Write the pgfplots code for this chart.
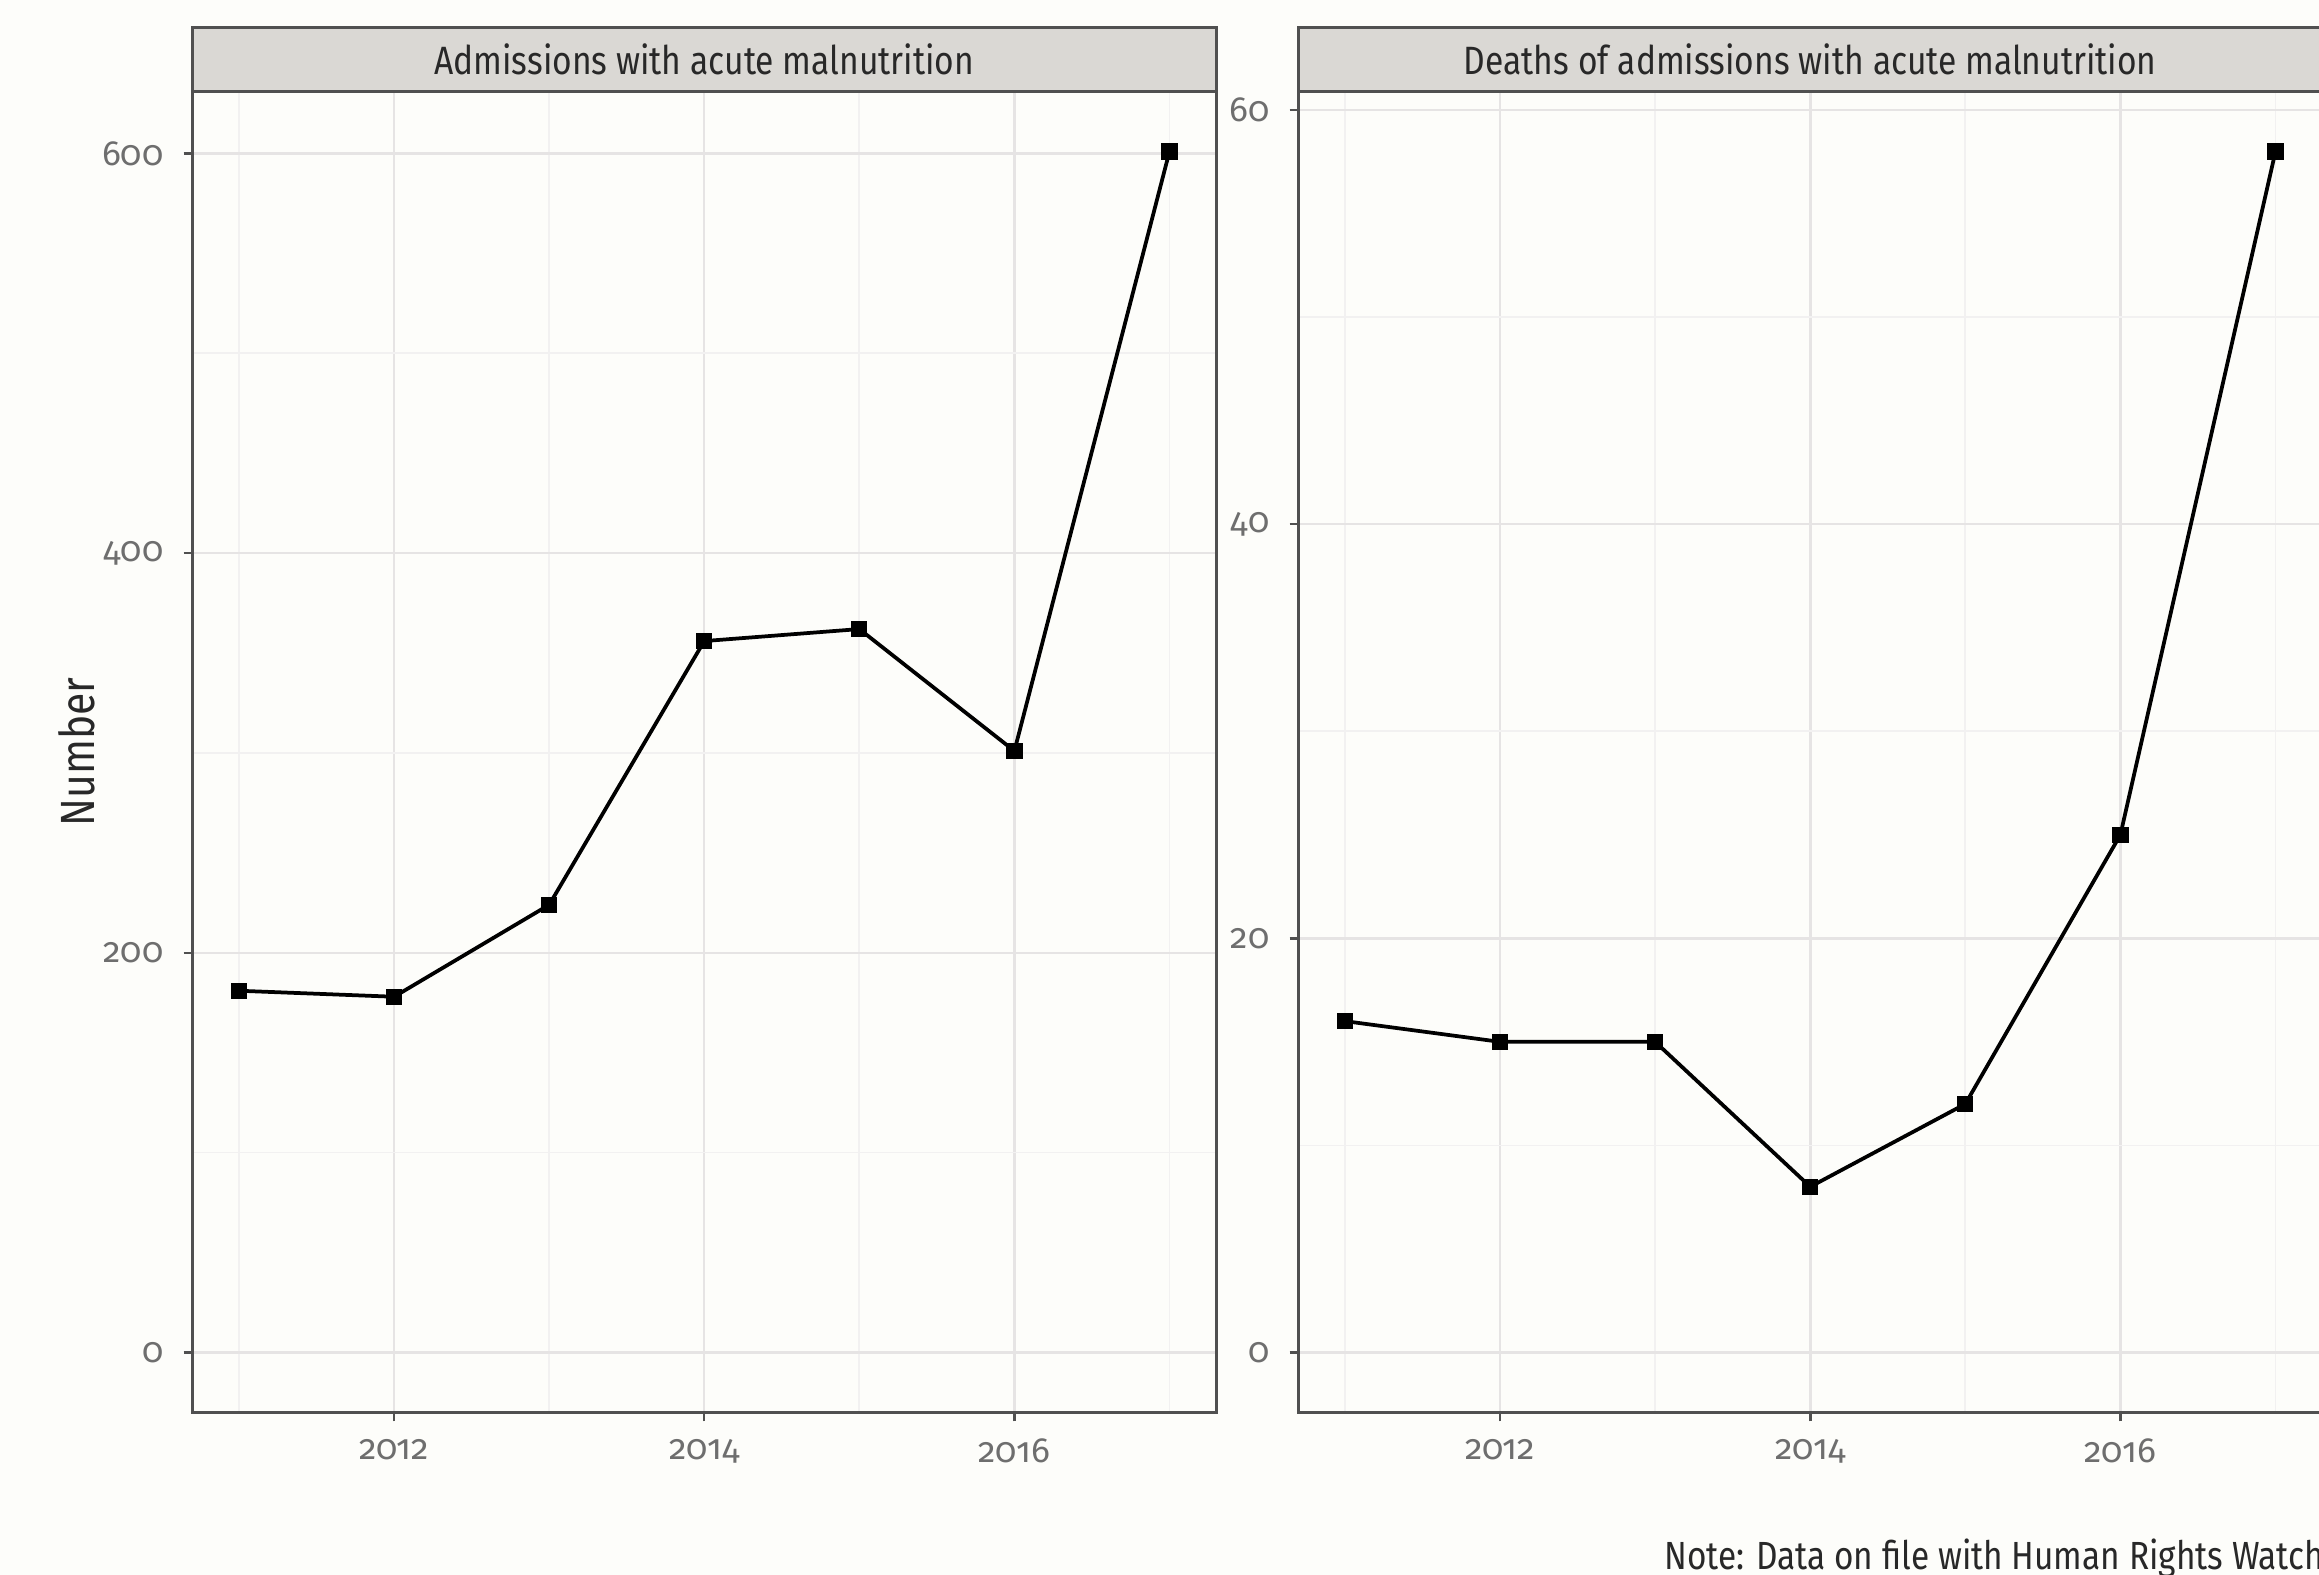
\documentclass[border=0pt]{standalone}
\usepackage{pgfplots}
\pgfplotsset{compat=1.18}
\usepackage{fontspec}
\setmainfont[Numbers=OldStyle]{Fira Sans}
\newfontfamily\condfont[FakeStretch=0.85]{Fira Sans}
\definecolor{bg}{RGB}{253,253,250}
\definecolor{stripfill}{RGB}{218,216,212}
\definecolor{bordercol}{RGB}{80,80,80}
\definecolor{gridmaj}{RGB}{230,228,228}
\definecolor{gridmin}{RGB}{242,241,241}
\definecolor{ticklab}{RGB}{110,110,110}
\definecolor{textdark}{RGB}{40,40,40}

\pgfplotsset{
 facet/.style={
  scale only axis, width=204.7pt, height=264.2pt,
  axis background/.style={fill=bg},
  axis line style={draw=bordercol, line width=0.6pt},
  xmin=2010.7, xmax=2017.3,
  xtick={2012,2014,2016}, xticklabels={2012,2014,2016},
  minor xtick={2011,2013,2015,2017},
  grid=both,
  major grid style={draw=gridmaj, line width=0.5pt},
  minor grid style={draw=gridmin, line width=0.35pt},
  tick align=outside, xtick pos=bottom, ytick pos=left,
  major tick length=1.8pt, minor tick length=0pt,
  tick style={draw=bordercol, line width=0.5pt},
  tick label style={font=\fontsize{7}{8}\selectfont, color=ticklab},
  yticklabel style={xshift=-0.5pt},
  xticklabel style={yshift=0pt},
  /pgf/number format/assume math mode=true,
  clip=false,
 },
 dataline/.style={black, line width=0.75pt, mark=square*, mark size=1.25pt, mark options={solid}},
}

\begin{document}
\begin{tikzpicture}
\fill[bg] (0,0) rectangle (463.8pt,315pt);
\path[use as bounding box] (0,0) rectangle (463.8pt,315pt);

\begin{axis}[facet, at={(38.5pt,32.5pt)}, anchor=south west,
  ymin=-30.05, ymax=631.05,
  ytick={0,200,400,600}, yticklabels={0,200,400,600},
  minor ytick={100,300,500}]
\addplot[dataline] coordinates {
 (2011,181) (2012,178) (2013,224) (2014,356) (2015,362) (2016,301) (2017,601)};
\draw[draw=bordercol, fill=stripfill, line width=0.6pt]
  (rel axis cs:0,1) rectangle ([yshift=12.8pt]rel axis cs:1,1);
\node[font=\condfont\fontsize{7.9}{9}\selectfont, color=textdark]
  at ([yshift=6.4pt]rel axis cs:0.5,1) {Admissions with acute malnutrition};
\end{axis}

\begin{axis}[facet, at={(259.7pt,32.5pt)}, anchor=south west,
  ymin=-2.9, ymax=60.9,
  ytick={0,20,40,60}, yticklabels={0,20,40,60},
  minor ytick={10,30,50}]
\addplot[dataline] coordinates {
 (2011,16) (2012,15) (2013,15) (2014,8) (2015,12) (2016,25) (2017,58)};
\draw[draw=bordercol, fill=stripfill, line width=0.6pt]
  (rel axis cs:0,1) rectangle ([yshift=12.8pt]rel axis cs:1,1);
\node[font=\condfont\fontsize{7.9}{9}\selectfont, color=textdark]
  at ([yshift=6.4pt]rel axis cs:0.5,1) {Deaths of admissions with acute malnutrition};
\end{axis}

\node[rotate=90, font=\condfont\fontsize{9.6}{11}\selectfont, color=textdark]
  at (15.4pt,164.6pt) {Number};
\node[anchor=base west, inner sep=0pt, font=\condfont\fontsize{7.85}{9}\selectfont, color=textdark]
  at (332.7pt,1.0pt) {Note: Data on file with Human Rights Watch};
\end{tikzpicture}
\end{document}
